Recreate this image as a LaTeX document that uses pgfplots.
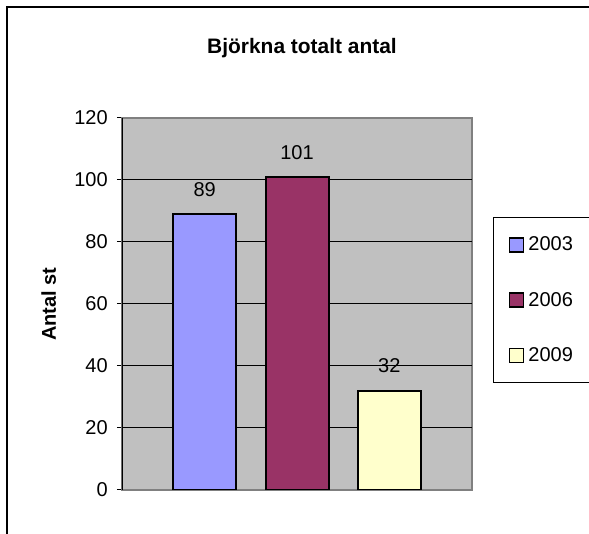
\documentclass[border=0pt]{standalone}
\usepackage{pgfplots}
\pgfplotsset{compat=1.18}
\usepackage{fontspec}
\setmainfont{Liberation Sans}
\definecolor{c2003}{HTML}{9999FF}
\definecolor{c2006}{HTML}{993366}
\definecolor{c2009}{HTML}{FFFFCC}
\definecolor{plotbg}{HTML}{C0C0C0}
\definecolor{plotframe}{HTML}{808080}
\begin{document}
\begin{tikzpicture}
\useasboundingbox (0,0) rectangle (441.75pt,400.5pt);
\draw[line width=1.3pt] (5.25pt,0pt) -- (5.25pt,395.25pt) -- (441.75pt,395.25pt);
\node[font=\bfseries\fontsize{15.7}{18}\selectfont, anchor=base] at (226.5pt,360pt) {Björkna totalt antal};
\begin{axis}[
  at={(91.5pt,33pt)}, anchor=south west,
  scale only axis, width=262.5pt, height=279pt,
  ybar=22pt, bar width=47.25pt,
  xmin=-1, xmax=1, xtick=\empty,
  ymin=0, ymax=120, ytick={0,20,...,120},
  ytick pos=left, tick align=outside,
  major tick length=3.75pt,
  major tick style={black, line width=0.75pt},
  extra y ticks={20,40,60,80,100},
  extra y tick labels={},
  extra y tick style={grid=major, major tick length=0pt},
  major grid style={black, line width=0.75pt},
  axis background/.style={fill=plotbg},
  axis line style={plotframe, line width=1.5pt},
  /pgf/number format/assume math mode=true,
  yticklabel style={font=\fontsize{15}{18}\selectfont, anchor=east, inner sep=0pt, xshift=-6.75pt},
  ylabel={Antal st},
  ylabel style={font=\bfseries\fontsize{15}{18}\selectfont, at={(axis description cs:0,0.5)}, anchor=base, yshift=49.5pt},
  nodes near coords,
  every node near coord/.append style={font=\fontsize{15}{18}\selectfont, anchor=south, inner sep=0pt, yshift=12.5pt, black},
  legend style={at={(1.06,0.734)}, anchor=north west, draw=black, line width=0.75pt, fill=white,
    inner xsep=11.5pt, inner ysep=14.5pt, row sep=29.5pt, column sep=3pt,
    nodes={inner sep=0pt}, font=\fontsize{15}{18}\selectfont},
  legend image code/.code={\draw[#1, draw=black, line width=1.2pt] (0pt,-5.25pt) rectangle (10.5pt,5.25pt);},
]
\addplot[fill=c2003, draw=black, line width=1.5pt] coordinates {(0,89)};
\addplot[fill=c2006, draw=black, line width=1.5pt] coordinates {(0,101)};
\addplot[fill=c2009, draw=black, line width=1.5pt] coordinates {(0,32)};
\legend{2003\rule{6.5pt}{0pt},2006\rule{6.5pt}{0pt},2009\rule{6.5pt}{0pt}}
\draw[black, line width=1pt] (rel axis cs:0,0) -- (rel axis cs:0,1);
\end{axis}
\end{tikzpicture}
\end{document}
